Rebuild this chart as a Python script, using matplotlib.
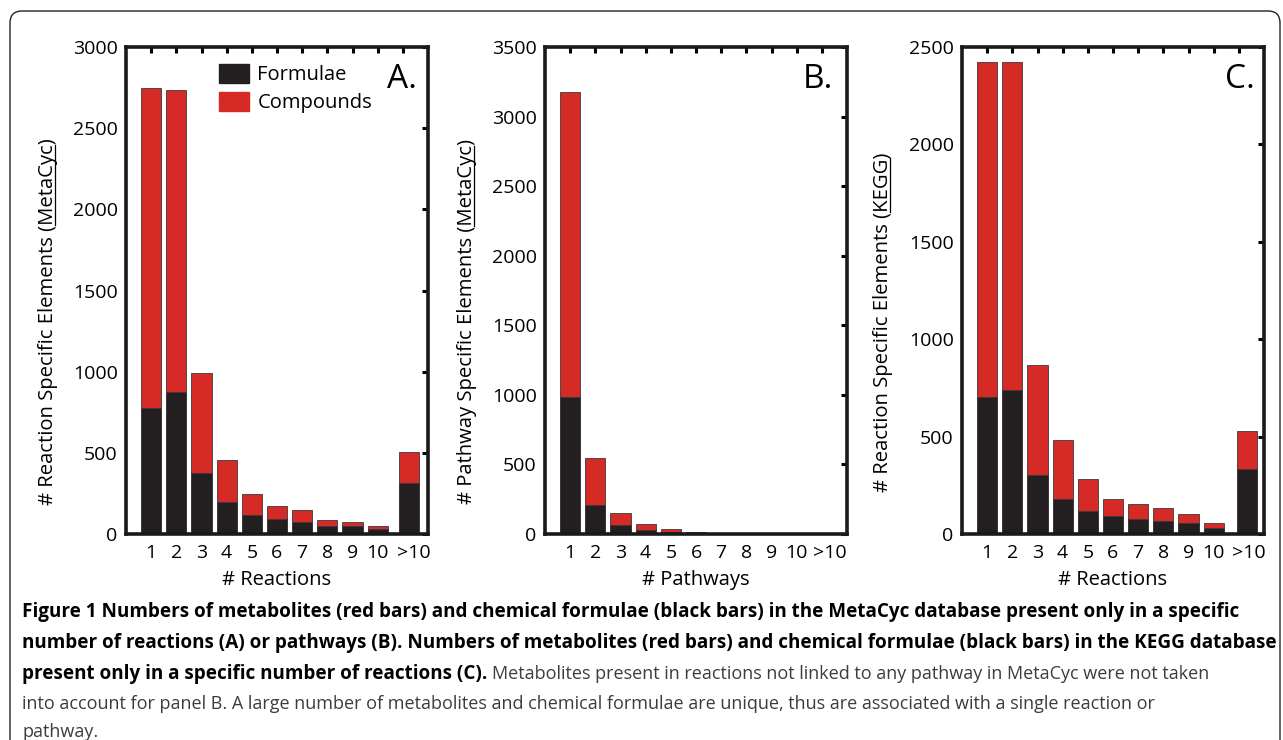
import matplotlib
matplotlib.use("Agg")
import matplotlib.pyplot as plt
from matplotlib.patches import Patch, FancyBboxPatch
from matplotlib.lines import Line2D
from matplotlib.transforms import IdentityTransform

plt.rcParams['font.family'] = ['Open Sans', 'DejaVu Sans']

# data
categories = ['1', '2', '3', '4', '5', '6', '7', '8', '9', '10', '>10']
a_compounds = [2747, 2737, 989, 453, 247, 171, 147, 88, 76, 50, 503]
a_formulae = [778, 873, 375, 197, 116, 93, 71, 50, 50, 28, 313]
b_compounds = [3176, 548, 152, 69, 36, 14, 10, 6, 3, 2, 2]
b_formulae = [982, 205, 64, 28, 14, 6, 4, 3, 1, 1, 1]
c_compounds = [2425, 2421, 869, 480, 281, 182, 152, 132, 103, 55, 530]
c_formulae = [705, 741, 302, 182, 119, 91, 75, 69, 55, 30, 332]

RED = '#d62a27'
BLACK = '#231f20'

W, H = 1283, 740
fig = plt.figure(figsize=(W / 100, H / 100), dpi=100)

# outer rounded frame (bottom edge runs off the picture)
frame = FancyBboxPatch((10, -20), 1270, 749, boxstyle='round,pad=0,rounding_size=12',
                       transform=IdentityTransform(), fill=False, lw=1.0, ec='#222222')
fig.add_artist(frame)

panels = [
    dict(left=126, comp=a_compounds, form=a_formulae, ymax=3000, step=500, last=11.26, lab=11.45,
         letter='A.', lx=417, xlabel='# Reactions', ylx=48,
         ypre='# Reaction Specific Elements (', yword='MetaCyc', legend=True),
    dict(left=545, comp=b_compounds, form=b_formulae, ymax=3500, step=500, last=11.25, lab=11.3,
         letter='B.', lx=833, xlabel='# Pathways', ylx=467,
         ypre='# Pathway Specific Elements (', yword='MetaCyc', legend=False),
    dict(left=962, comp=c_compounds, form=c_formulae, ymax=2500, step=500, last=11.34, lab=11.4,
         letter='C.', lx=1255, xlabel='# Reactions', ylx=883,
         ypre='# Reaction Specific Elements (', yword='KEGG', legend=False),
]

ax_top, ax_bot, ax_w = 47, 534, 302
ylabels = []
for p in panels:
    ax = fig.add_axes([p['left'] / W, (H - ax_bot) / H, ax_w / W, (ax_bot - ax_top) / H])
    xpos = list(range(1, 11)) + [p['last']]
    ax.bar(xpos, p['comp'], width=0.8, color=RED, edgecolor='#3a3a3a', linewidth=0.6)
    ax.bar(xpos, p['form'], width=0.8, color=BLACK, edgecolor='#3a3a3a', linewidth=0.6)
    ax.set_xlim(0, 12)
    ax.set_ylim(0, p['ymax'])
    ax.set_yticks(range(0, p['ymax'] + 1, p['step']))
    ax.tick_params(axis='y', left=False, right=True, direction='in', length=4, width=2.2,
                   labelsize=14, pad=6)
    ax.set_xticks(list(range(1, 11)) + [p['lab']], categories)
    ax.tick_params(axis='x', bottom=True, length=0, labelsize=14, pad=7)
    sec = ax.secondary_xaxis('top')
    sec.set_xticks(range(1, 12))
    sec.tick_params(direction='in', length=4, width=2.2, labeltop=False)
    sec.spines['top'].set_visible(False)
    for s in ax.spines.values():
        s.set_linewidth(2.6)
        s.set_color('#1a1a1a')
    ax.set_xlabel(p['xlabel'], fontsize=14.5, labelpad=6.3)
    ax.text((p['lx'] - p['left']) / ax_w, (ax_bot - 88) / (ax_bot - ax_top), p['letter'],
            transform=ax.transAxes, ha='right', va='baseline', fontsize=24)
    if p['legend']:
        handles = [Patch(facecolor=BLACK, edgecolor=BLACK), Patch(facecolor=RED, edgecolor=RED)]
        ax.legend(handles, ['Formulae', 'Compounds'], loc='upper left',
                  bbox_to_anchor=((219 - p['left']) / ax_w, (ax_bot - 64) / (ax_bot - ax_top)),
                  frameon=False, fontsize=14.5, handlelength=1.5, handleheight=1.05,
                  handletextpad=0.4, labelspacing=0.35, borderpad=0, borderaxespad=0)
    t = fig.text(p['ylx'] / W, 1 - 322 / H, p['ypre'] + p['yword'] + ')',
                 rotation=90, ha='center', va='center', fontsize=14.6)
    ylabels.append((t, p))

# caption
cap_x = 22 / W
bold_lines = [
    'Figure 1 Numbers of metabolites (red bars) and chemical formulae (black bars) in the MetaCyc database present only in a specific',
    'number of reactions (A) or pathways (B). Numbers of metabolites (red bars) and chemical formulae (black bars) in the KEGG database',
    'present only in a specific number of reactions (C).',
]
reg_lines = [
    'into account for panel B. A large number of metabolites and chemical formulae are unique, thus are associated with a single reaction or',
    'pathway.',
]
line3_tail = 'Metabolites present in reactions not linked to any pathway in MetaCyc were not taken'
baselines = [617, 648, 679, 709, 737]
bold_size = 13.6
reg_size = 13.0
gray = '#3c3c3c'
bold_texts = []
for i, s in enumerate(bold_lines):
    bold_texts.append(fig.text(cap_x, 1 - baselines[i] / H, s, fontsize=bold_size,
                               fontweight='bold', va='baseline', ha='left'))
for i, s in enumerate(reg_lines):
    fig.text(cap_x, 1 - baselines[3 + i] / H, s, fontsize=reg_size, color=gray,
             va='baseline', ha='left')

fig.canvas.draw()
r = fig.canvas.get_renderer()
bb = bold_texts[2].get_window_extent(r)
fig.text((bb.x1 + 5) / W, 1 - baselines[2] / H, line3_tail, fontsize=reg_size, color=gray,
         va='baseline', ha='left')

# underline the database name in the y labels
for t, p in ylabels:
    prop = t.get_fontproperties()
    wpre, _, _ = r.get_text_width_height_descent(p['ypre'], prop, ismath=False)
    wword, _, _ = r.get_text_width_height_descent(p['yword'], prop, ismath=False)
    _, _, desc = r.get_text_width_height_descent(p['ypre'] + p['yword'] + ')', prop, ismath=False)
    ext = t.get_window_extent(r)
    x = ext.x1 - desc + 2
    y0 = ext.y0 + wpre
    fig.add_artist(Line2D([x, x], [y0, y0 + wword], transform=IdentityTransform(),
                          color='black', lw=0.9))

fig.savefig('out.png', dpi=100)
